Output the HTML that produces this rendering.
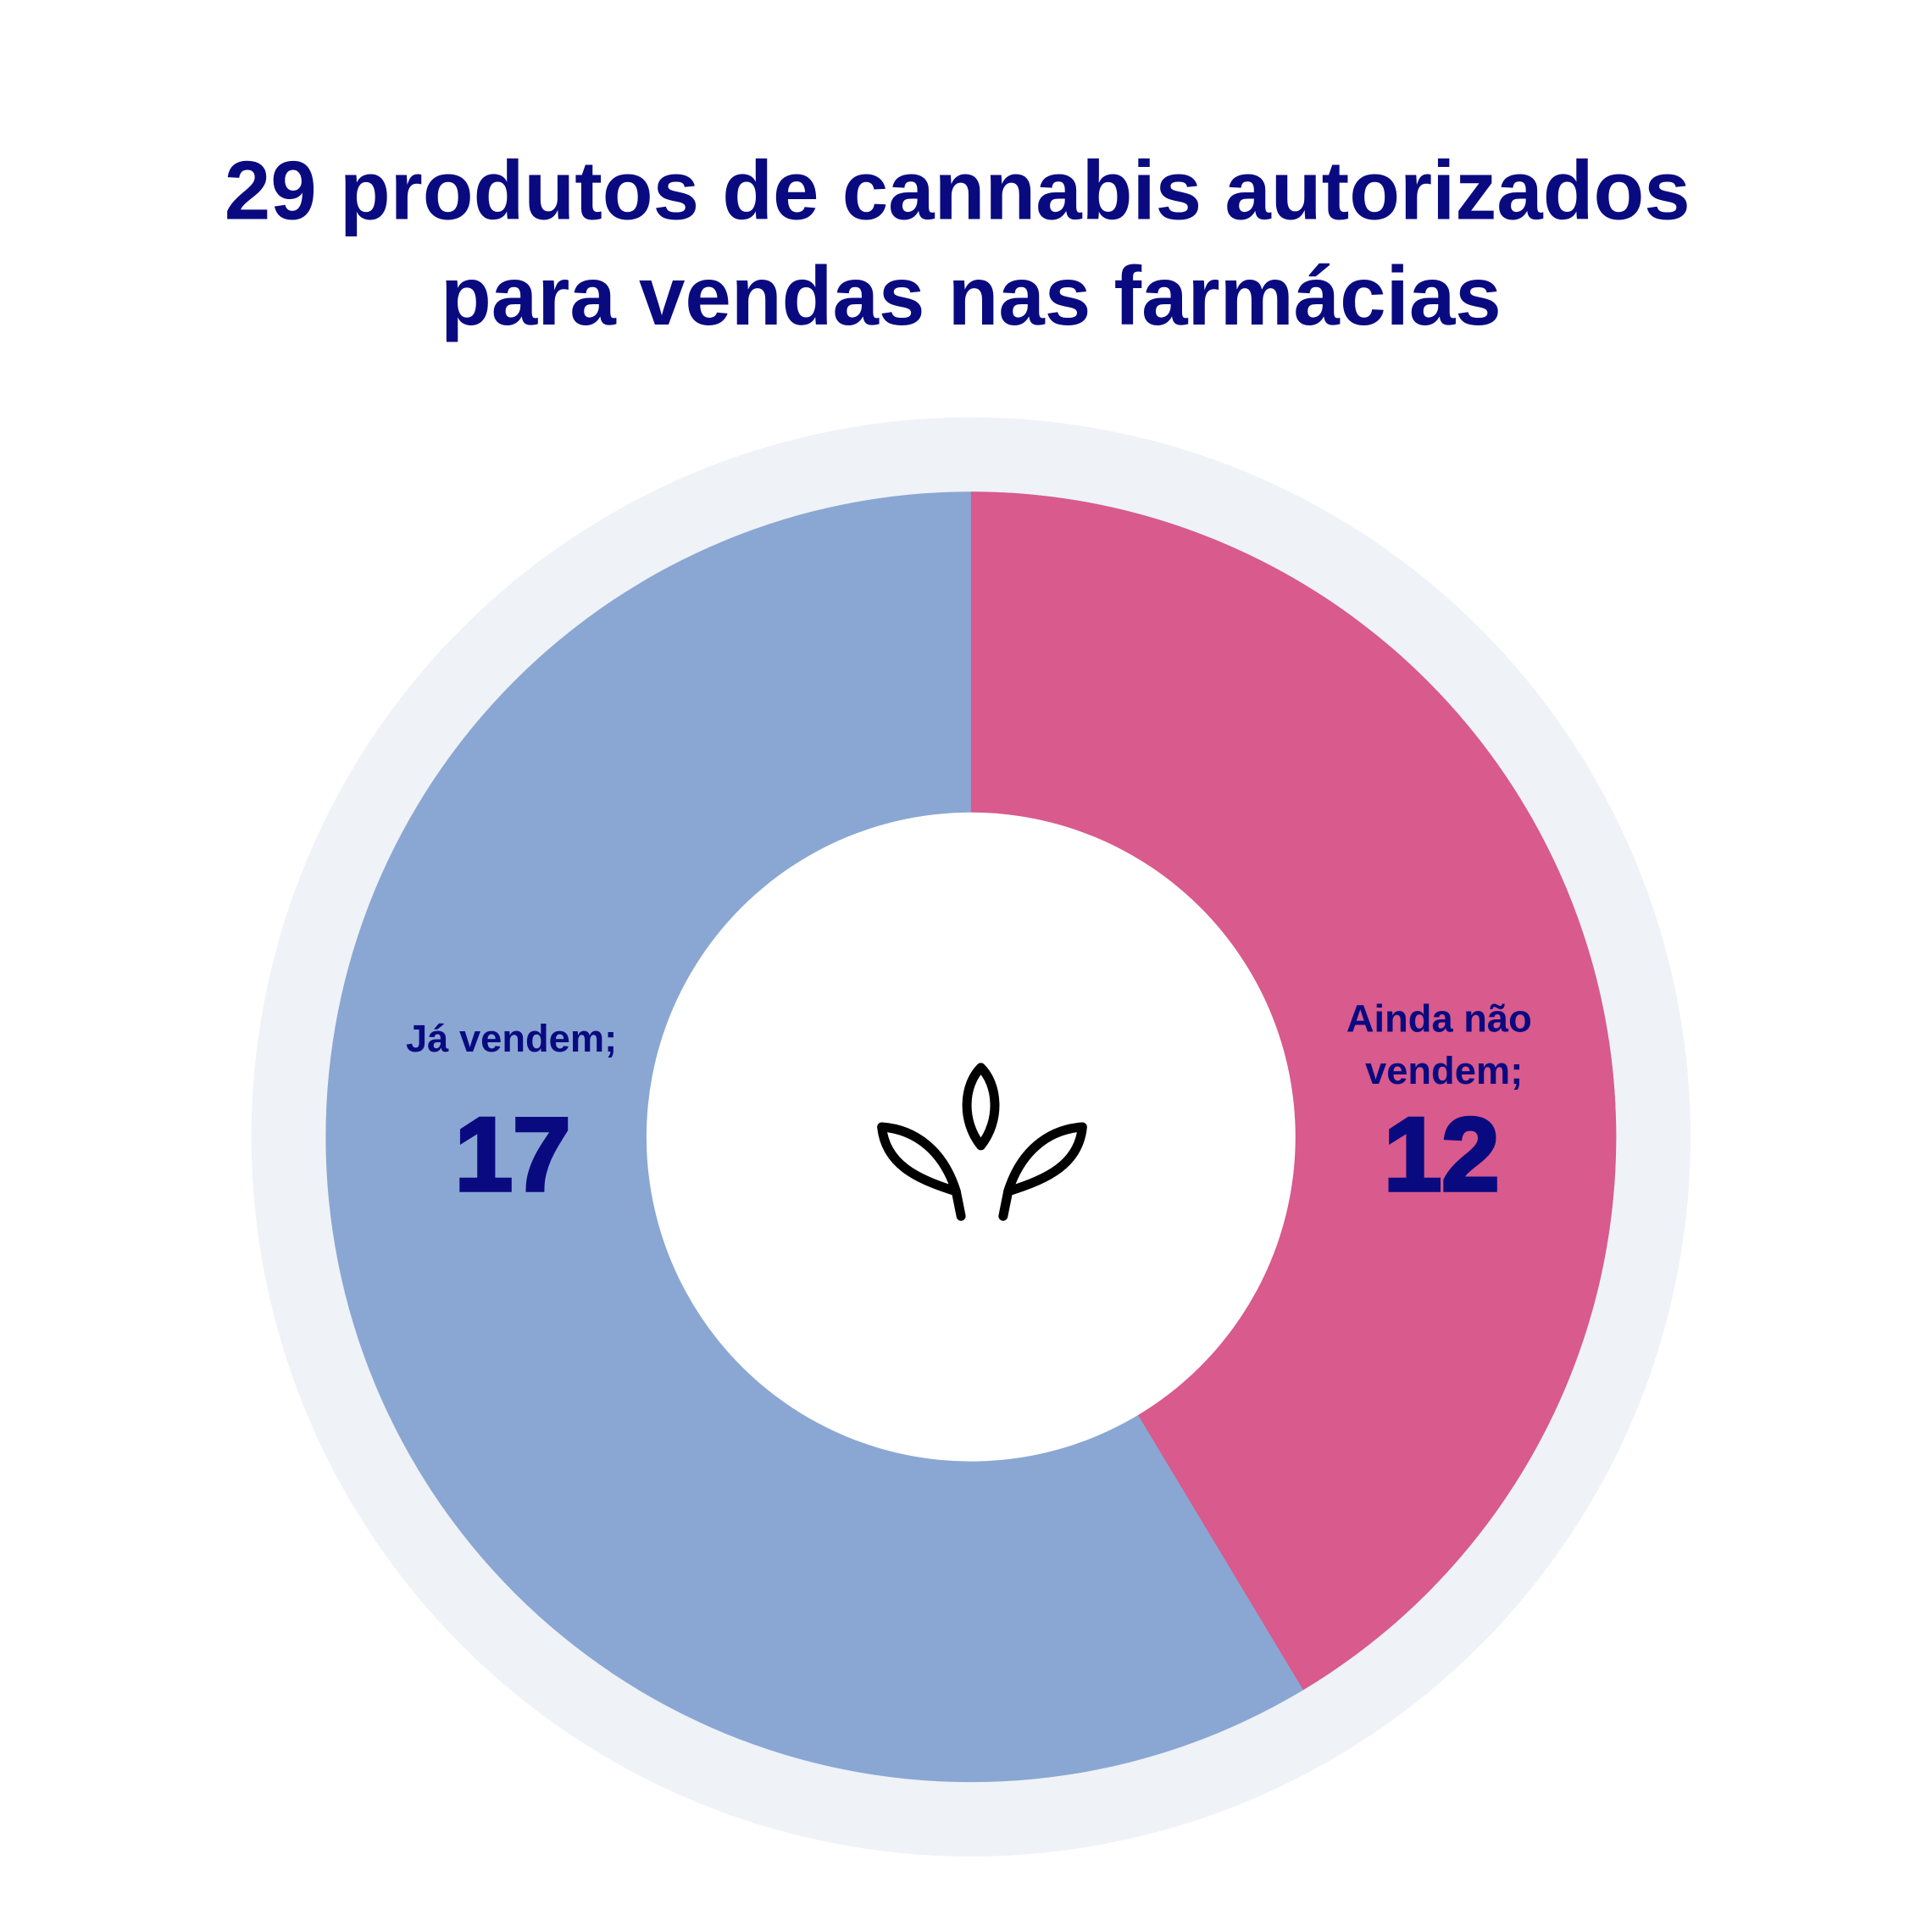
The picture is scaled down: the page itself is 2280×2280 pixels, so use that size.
<!DOCTYPE html>
<html><head><meta charset="utf-8"><style>
html,body{margin:0;padding:0;background:#fff;}
svg{display:block;}
</style></head><body>
<svg width="2280" height="2280" viewBox="0 0 1560 1560" xmlns="http://www.w3.org/2000/svg">
<rect width="1560" height="1560" fill="#fff"/>
<text x="773" y="177" text-anchor="middle" font-family="'Liberation Sans', 'DejaVu Sans', sans-serif" font-size="67" font-weight="bold" fill="#0a0a80">29 produtos de cannabis autorizados</text>
<text x="784" y="262" text-anchor="middle" font-family="'Liberation Sans', 'DejaVu Sans', sans-serif" font-size="67" font-weight="bold" fill="#0a0a80">para vendas nas farmácias</text>
<circle cx="784" cy="918" r="581" fill="#eff2f7"/>
<circle cx="784" cy="918" r="521" fill="#8aa7d3"/>
<path d="M784,918 L784,397 A521,521 0 0 1 1052.3,1364.6 Z" fill="#d95a8c"/>
<circle cx="784" cy="918" r="262" fill="#fff"/>
<g font-family="'Liberation Sans', 'DejaVu Sans', sans-serif" fill="#0a0a80" text-anchor="middle">
<text x="413" y="849" font-size="31" font-weight="bold">Já vendem;</text>
<text x="414" y="961" font-size="84" font-weight="900" stroke="#0a0a80" stroke-width="3">17</text>
<text x="1162" y="833" font-size="31" font-weight="bold">Ainda não</text>
<text x="1166" y="875" font-size="31" font-weight="bold">vendem;</text>
<text x="1164" y="961" font-size="84" font-weight="900" stroke="#0a0a80" stroke-width="3">12</text>
</g>
<g fill="none" stroke="#000" stroke-width="7.5" stroke-linecap="round" stroke-linejoin="round">
<path d="M792,862 C778,876 776,905 792,925 C808,905 806,876 792,862 Z"/>
<path d="M712,910 C740,912 762,930 772,962 C740,952 715,940 712,910 Z"/>
<path d="M772,962 L776,982"/>
<path d="M874,910 C846,912 824,930 814,962 C846,952 871,940 874,910 Z"/>
<path d="M814,962 L810,982"/>
</g>
</svg>
</body></html>
